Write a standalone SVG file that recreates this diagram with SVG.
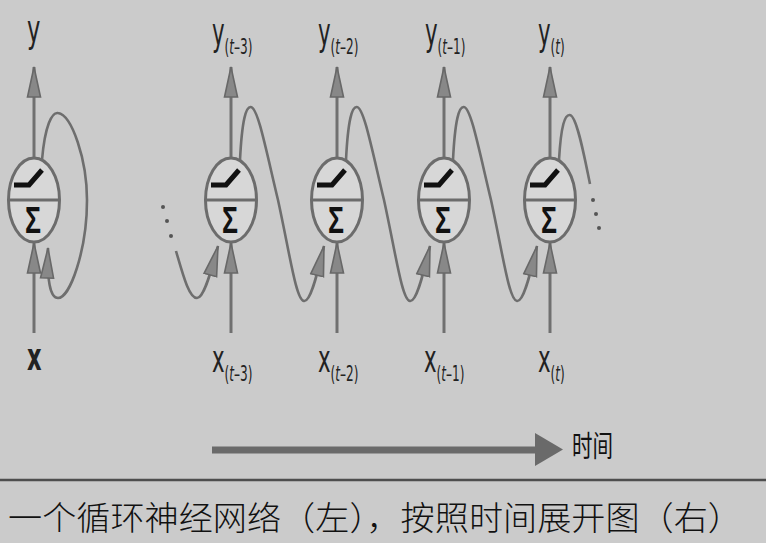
<svg xmlns="http://www.w3.org/2000/svg" xmlns:xlink="http://www.w3.org/1999/xlink" width="766" height="543" viewBox="0 0 766 543">
<style>
.ln{fill:none;stroke:#707070;stroke-width:3}
.cv{fill:none;stroke:#6e6e6e;stroke-width:2.6;marker-end:url(#ah)}
.up{fill:none;stroke:#707070;stroke-width:3;marker-end:url(#ah)}
.lb{font-family:"Liberation Sans Narrow","DejaVu Sans Condensed","Liberation Sans",sans-serif;fill:#222;font-size:37px}
.sb{font-size:21px}
.dot{fill:#555}
.cj{font-family:"Noto Sans CJK SC","Noto Sans CJK JP",sans-serif;fill:#111}
</style>
<defs>
<marker id="ah" markerUnits="userSpaceOnUse" markerWidth="32" markerHeight="16" viewBox="0 0 32 16" refX="31" refY="8" orient="auto">
<path d="M1,1.5 L31,8 L1,14.5 Z" fill="#888" stroke="#686868" stroke-width="1.6"/>
</marker>
<g id="cell">
<ellipse cx="0" cy="0" rx="25.5" ry="42" fill="#d7d7d7" stroke="#6c6c6c" stroke-width="3"/>
<line x1="-25" y1="0" x2="25" y2="0" stroke="#6c6c6c" stroke-width="3"/>
<path d="M-20,-15 L-5,-15 L8,-30" fill="none" stroke="#111" stroke-width="5"/>
<text x="-1" y="33" text-anchor="middle" font-family="Liberation Sans Narrow,Liberation Sans,sans-serif" font-weight="bold" font-size="37" fill="#111" textLength="16" lengthAdjust="spacingAndGlyphs">Σ</text>
</g>
</defs>
<rect x="0" y="0" width="766" height="543" fill="#cbcbcb"/>

<g id="connectors">
<path class="up" d="M34,158 L34,67"/>
<path class="up" d="M34,333 L34,243"/>
<path class="up" d="M231,158 L231,67"/>
<path class="up" d="M231,333 L231,243"/>
<path class="up" d="M337,158 L337,67"/>
<path class="up" d="M337,333 L337,243"/>
<path class="up" d="M444,158 L444,67"/>
<path class="up" d="M444,333 L444,243"/>
<path class="up" d="M550,158 L550,67"/>
<path class="up" d="M550,333 L550,243"/>
<path class="cv" d="M42,160 C45,125 52,112 58,113 C72,115 87,160 87,200 C87,250 70,298 58,298 C50,298 47,280 48,248"/>
<path class="cv" d="M176,251 C183,275 189,298 197,298 C203,298 209,280 218,246"/>
<path class="cv" d="M240,160 C242,120 246,106 251,107 C258,108 266,150 278,200 C290,255 296,300 304,301 C310,302 316,280 324,246"/>
<path class="cv" d="M346,160 C348,120 352,106 357,107 C364,108 372,150 384,200 C396,255 402,300 410,301 C416,302 422,280 430,246"/>
<path class="cv" d="M453,160 C455,120 459,106 464,107 C471,108 479,150 491,200 C503,255 509,300 517,301 C523,302 529,280 537,246"/>
<path class="ln" style="stroke-width:2.6" d="M559,160 C561,125 565,114 570,115 C577,116 585,160 590,184"/>
<circle class="dot" cx="163" cy="207" r="2"/>
<circle class="dot" cx="167" cy="221" r="2"/>
<circle class="dot" cx="171" cy="236" r="2"/>
<circle class="dot" cx="593" cy="200" r="2"/>
<circle class="dot" cx="596" cy="214" r="2"/>
<circle class="dot" cx="599" cy="228" r="2"/>
<line x1="212" y1="450" x2="540" y2="450" stroke="#6a6a6a" stroke-width="7"/>
<polygon points="535,433 563,449.5 535,466" fill="#6a6a6a"/>
</g>

<g id="rnn"><use xlink:href="#cell" href="#cell" x="34" y="200"/></g>
<g id="cell-t3"><use xlink:href="#cell" href="#cell" x="231" y="200"/></g>
<g id="cell-t2"><use xlink:href="#cell" href="#cell" x="337" y="200"/></g>
<g id="cell-t1"><use xlink:href="#cell" href="#cell" x="444" y="200"/></g>
<g id="cell-t"><use xlink:href="#cell" href="#cell" x="550" y="200"/></g>

<g id="labels">
<text class="lb" transform="translate(27,42) scale(0.68,1)">y</text>
<text class="lb" transform="translate(27,370) scale(0.68,1)" font-weight="bold">x</text>

<text class="lb" transform="translate(212,45) scale(0.64,1)">y<tspan class="sb" dy="9">(<tspan font-style="italic">t</tspan>–3)</tspan></text>
<text class="lb" transform="translate(318,45) scale(0.64,1)">y<tspan class="sb" dy="9">(<tspan font-style="italic">t</tspan>–2)</tspan></text>
<text class="lb" transform="translate(425,45) scale(0.64,1)">y<tspan class="sb" dy="9">(<tspan font-style="italic">t</tspan>–1)</tspan></text>
<text class="lb" transform="translate(538,45) scale(0.64,1)">y<tspan class="sb" dy="9">(<tspan font-style="italic">t</tspan>)</tspan></text>

<text class="lb" transform="translate(212,372) scale(0.64,1)">x<tspan class="sb" dy="9">(<tspan font-style="italic">t</tspan>–3)</tspan></text>
<text class="lb" transform="translate(318,372) scale(0.64,1)">x<tspan class="sb" dy="9">(<tspan font-style="italic">t</tspan>–2)</tspan></text>
<text class="lb" transform="translate(424,372) scale(0.64,1)">x<tspan class="sb" dy="9">(<tspan font-style="italic">t</tspan>–1)</tspan></text>
<text class="lb" transform="translate(538,372) scale(0.64,1)">x<tspan class="sb" dy="9">(<tspan font-style="italic">t</tspan>)</tspan></text>

<text class="cj" x="572" y="457" font-size="29" fill="#222" textLength="41" lengthAdjust="spacingAndGlyphs">时间</text>
</g>

<line x1="0" y1="480" x2="766" y2="480" stroke="#4e4e4e" stroke-width="2.5"/>
<text class="cj" x="8" y="530" font-size="33" font-weight="300" textLength="734" lengthAdjust="spacingAndGlyphs">一个循环神经网络（左），按照时间展开图（右）</text>
</svg>
